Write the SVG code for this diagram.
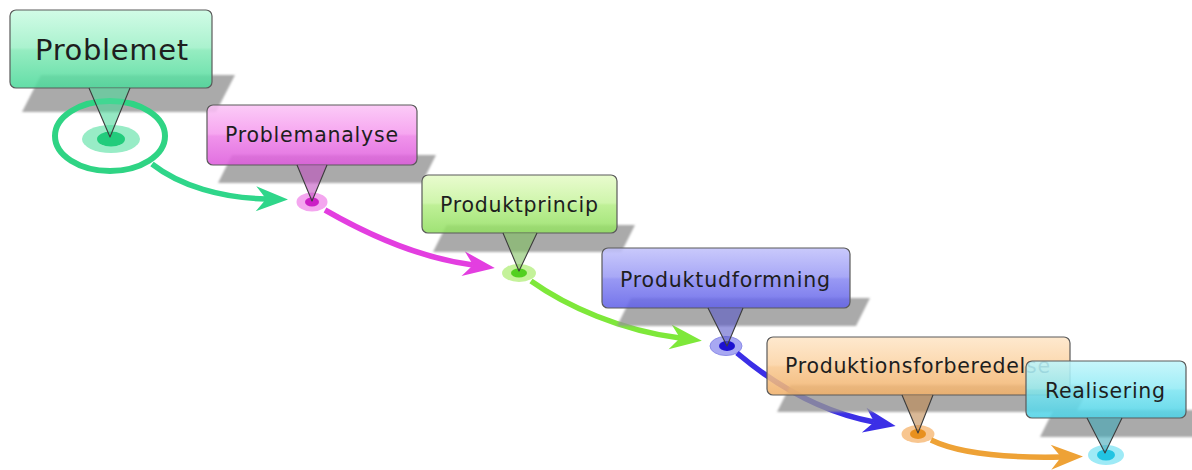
<svg xmlns="http://www.w3.org/2000/svg" width="1192" height="470" viewBox="0 0 1192 470">
<style>
.sh{fill:#959595;fill-opacity:0.8;filter:url(#blur)}
.box{stroke:#5a5a5a;stroke-width:1.2;fill-opacity:0.88}
.ptr{fill-opacity:0.6}
.ptrl{fill:none;stroke:#3c3c3c;stroke-width:1.1;stroke-linejoin:round}
.lbl{font-family:"DejaVu Sans","Liberation Sans",sans-serif;fill:#1e1e1e}
.arr{fill:none;stroke-width:5.5;stroke-linecap:butt}
</style>
<defs>
<filter id="blur" x="-5%" y="-20%" width="110%" height="140%"><feGaussianBlur stdDeviation="1.3"/></filter>
<linearGradient id="g1" gradientUnits="userSpaceOnUse" x1="0" y1="10" x2="0" y2="88"><stop offset="0" stop-color="#cbfbe3"/><stop offset="0.48" stop-color="#9ff0c8"/><stop offset="0.52" stop-color="#86eab8"/><stop offset="1" stop-color="#4ed99b"/></linearGradient>
<linearGradient id="g2" gradientUnits="userSpaceOnUse" x1="0" y1="105" x2="0" y2="165"><stop offset="0" stop-color="#fbc4f6"/><stop offset="0.48" stop-color="#f59aee"/><stop offset="0.52" stop-color="#ee84e8"/><stop offset="1" stop-color="#dd5cdc"/></linearGradient>
<linearGradient id="g3" gradientUnits="userSpaceOnUse" x1="0" y1="175" x2="0" y2="233"><stop offset="0" stop-color="#e6fbc8"/><stop offset="0.48" stop-color="#c8f4a0"/><stop offset="0.52" stop-color="#b6ee88"/><stop offset="1" stop-color="#92de62"/></linearGradient>
<linearGradient id="g4" gradientUnits="userSpaceOnUse" x1="0" y1="248" x2="0" y2="308"><stop offset="0" stop-color="#c2c2fb"/><stop offset="0.48" stop-color="#9c9cf5"/><stop offset="0.52" stop-color="#8a8af2"/><stop offset="1" stop-color="#6262e8"/></linearGradient>
<linearGradient id="g5" gradientUnits="userSpaceOnUse" x1="0" y1="337" x2="0" y2="395"><stop offset="0" stop-color="#fee6c8"/><stop offset="0.48" stop-color="#fbd3a4"/><stop offset="0.52" stop-color="#f8c890"/><stop offset="1" stop-color="#f0b06a"/></linearGradient>
<linearGradient id="g6" gradientUnits="userSpaceOnUse" x1="0" y1="361" x2="0" y2="418"><stop offset="0" stop-color="#c0f5fb"/><stop offset="0.48" stop-color="#94ebf5"/><stop offset="0.52" stop-color="#7ce4f1"/><stop offset="1" stop-color="#4ed2e6"/></linearGradient>
<marker id="m1" markerUnits="userSpaceOnUse" viewBox="-12 -15 36 30" refX="0" refY="0" markerWidth="36" markerHeight="30" orient="auto"><path d="M22,0 L-10,-12.5 Q-3,-4 0,0 Q-3,4 -10,12.5 Z" fill="#2fd68a"/></marker>
<marker id="m2" markerUnits="userSpaceOnUse" viewBox="-12 -15 36 30" refX="0" refY="0" markerWidth="36" markerHeight="30" orient="auto"><path d="M22,0 L-10,-12.5 Q-3,-4 0,0 Q-3,4 -10,12.5 Z" fill="#e33ee0"/></marker>
<marker id="m3" markerUnits="userSpaceOnUse" viewBox="-12 -15 36 30" refX="0" refY="0" markerWidth="36" markerHeight="30" orient="auto"><path d="M22,0 L-10,-12.5 Q-3,-4 0,0 Q-3,4 -10,12.5 Z" fill="#7ee83a"/></marker>
<marker id="m4" markerUnits="userSpaceOnUse" viewBox="-12 -15 36 30" refX="0" refY="0" markerWidth="36" markerHeight="30" orient="auto"><path d="M22,0 L-10,-12.5 Q-3,-4 0,0 Q-3,4 -10,12.5 Z" fill="#3b2fe6"/></marker>
<marker id="m5" markerUnits="userSpaceOnUse" viewBox="-12 -15 36 30" refX="0" refY="0" markerWidth="36" markerHeight="30" orient="auto"><path d="M22,0 L-10,-12.5 Q-3,-4 0,0 Q-3,4 -10,12.5 Z" fill="#eea236"/></marker>
</defs>
<rect width="1192" height="470" fill="#ffffff"/>

<g id="node-problemet">
<polygon class="sh" points="41,75 235,75 216,112 22,112"/>
<ellipse cx="110" cy="136" rx="55" ry="35" fill="none" stroke="#2fd484" stroke-width="6"/>
<ellipse cx="111" cy="139" rx="29" ry="14" fill="#98ecc6"/>
<ellipse cx="111" cy="139" rx="14" ry="7.5" fill="#22cc7c"/>
<rect class="box" x="10" y="10" width="202" height="78" rx="6" fill="url(#g1)"/>
<polygon class="ptr" points="89,88 130,88 110,137" fill="#4ed99b"/>
<polyline class="ptrl" points="89,88 110,137 130,88"/>
<text class="lbl" x="35" y="60" font-size="29" textLength="153">Problemet</text>
</g>

<g id="connectors-1">
<path class="arr" d="M152,164 C180,186 222,198 266,199" stroke="#2fd68a" marker-end="url(#m1)"/>
</g>

<g id="node-problemanalyse">
<polygon class="sh" points="232,155 436,155 422,183 218,183"/>
<ellipse cx="312" cy="202" rx="15.5" ry="9.5" fill="#f4a6ef"/>
<ellipse cx="312" cy="202" rx="7" ry="4.5" fill="#cc1fc6"/>
<rect class="box" x="207" y="105" width="210" height="60" rx="6" fill="url(#g2)"/>
<polygon class="ptr" points="297,165 327,165 312,201" fill="#c050c0"/>
<polyline class="ptrl" points="297,165 312,201 327,165"/>
<text class="lbl" x="225" y="142" font-size="20.5" textLength="173" fill="#301030">Problemanalyse</text>
</g>

<g id="connectors-2">
<path class="arr" d="M325,210 C365,233 420,258 473,265" stroke="#e33ee0" marker-end="url(#m2)"/>
</g>

<g id="node-produktprincip">
<polygon class="sh" points="446.5,225 635,225 621.5,252 433,252"/>
<ellipse cx="519" cy="273" rx="17" ry="9" fill="#c4f29a"/>
<ellipse cx="519" cy="273" rx="8" ry="4.5" fill="#52d020"/>
<rect class="box" x="422" y="175" width="195" height="58" rx="6" fill="url(#g3)"/>
<polygon class="ptr" points="503,233 537,233 519,271" fill="#80c060"/>
<polyline class="ptrl" points="503,233 519,271 537,233"/>
<text class="lbl" x="440" y="212" font-size="20.5" textLength="158">Produktprincip</text>
</g>

<g id="connectors-3">
<path class="arr" d="M531,281 C566,306 622,331 680,338" stroke="#7ee83a" marker-end="url(#m3)"/>
</g>

<g id="node-produktudformning">
<polygon class="sh" points="631,298 870,298 856,326 617,326"/>
<ellipse cx="726" cy="346" rx="16" ry="9.5" fill="#a8a8f2" stroke="#8c8ce8" stroke-width="1"/>
<ellipse cx="727" cy="346" rx="8" ry="5" fill="#1c10d0"/>
<rect class="box" x="602" y="248" width="248" height="60" rx="6" fill="url(#g4)"/>
<polygon class="ptr" points="708,308 743,308 727,346" fill="#5858c8"/>
<polyline class="ptrl" points="708,308 727,346 743,308"/>
<text class="lbl" x="620" y="287" font-size="20.5" textLength="210" fill="#161640">Produktudformning</text>
</g>

<g id="connectors-4">
<path class="arr" d="M737,353 C762,374 810,410 874,422" stroke="#3b2fe6" marker-end="url(#m4)"/>
</g>

<g id="node-produktionsforberedelse">
<polygon class="sh" points="790.5,385 1090,385 1076.5,412 777,412"/>
<ellipse cx="918" cy="434" rx="16.5" ry="9" fill="#f8c690"/>
<ellipse cx="918" cy="434" rx="8" ry="5" fill="#e8901e"/>
<rect class="box" x="767" y="337" width="303" height="58" rx="6" fill="url(#g5)"/>
<polygon class="ptr" points="902,395 933,395 918,433" fill="#c08850"/>
<polyline class="ptrl" points="902,395 918,433 933,395"/>
<text class="lbl" x="785" y="373" font-size="20.5" textLength="265">Produktionsforberedelse</text>
</g>

<g id="connectors-5">
<path class="arr" d="M931,440 C962,455 1012,458 1061,457" stroke="#eea236" marker-end="url(#m5)"/>
</g>

<g id="node-realisering">
<polygon class="sh" points="1053.5,410 1210,410 1196.5,437 1040,437"/>
<ellipse cx="1106" cy="455" rx="18" ry="10" fill="#9eeaf6"/>
<ellipse cx="1106" cy="455" rx="9" ry="5.5" fill="#22c4e2"/>
<rect class="box" x="1026" y="361" width="160" height="57" rx="6" fill="url(#g6)" fill-opacity="0.8"/>
<polygon class="ptr" points="1087,418 1122,418 1105,453" fill="#40a8b8"/>
<polyline class="ptrl" points="1087,418 1105,453 1122,418"/>
<text class="lbl" x="1045" y="398" font-size="20.5" textLength="120">Realisering</text>
</g>
</svg>
